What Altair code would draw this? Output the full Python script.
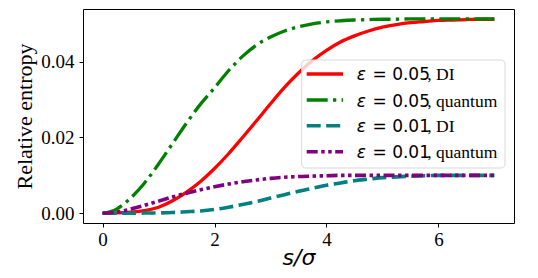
import altair as alt
import pandas as pd

# ---- data ----
s = [0, 0.25, 0.5, 0.75, 1.0, 1.25, 1.5, 1.75, 2.0, 2.25, 2.5, 2.75, 3.0, 3.25, 3.5,
     3.75, 4.0, 4.25, 4.5, 4.75, 5.0, 5.25, 5.5, 5.75, 6.0, 6.25, 6.5, 6.75, 7.0]

eps005_di = [0, 0.0001, 0.0003, 0.0007, 0.0016, 0.0033, 0.0056, 0.0084, 0.0118, 0.0157,
             0.0200, 0.0244, 0.0289, 0.0332, 0.0370, 0.0403, 0.0430, 0.0452, 0.0468,
             0.0481, 0.0491, 0.0498, 0.0503, 0.0506, 0.0509, 0.0510, 0.0511, 0.0512, 0.0512]

eps005_quantum = [0, 0.0011, 0.0040, 0.0080, 0.0130, 0.0184, 0.0238, 0.0288, 0.0331,
                  0.0376, 0.0414, 0.0444, 0.0465, 0.0481, 0.0492, 0.0500, 0.0505, 0.0508,
                  0.0510, 0.0511, 0.0512, 0.0512, 0.0513, 0.0513, 0.0513, 0.0513, 0.0513,
                  0.0513, 0.0513]

eps001_di = [0, 0.0, 0.00002, 0.00005, 0.0001, 0.0002, 0.0004, 0.0006, 0.0010, 0.0016,
             0.0023, 0.0031, 0.0040, 0.0049, 0.0058, 0.0066, 0.0074, 0.0080, 0.0086,
             0.0090, 0.0094, 0.0096, 0.0098, 0.0099, 0.0100, 0.0100, 0.0100, 0.0100, 0.0100]

eps001_quantum = [0, 0.0003, 0.0011, 0.0021, 0.0032, 0.0043, 0.0053, 0.0062, 0.0070,
                  0.0077, 0.0083, 0.0088, 0.0092, 0.0095, 0.0097, 0.0098, 0.0099, 0.0100,
                  0.0100, 0.0100, 0.0100, 0.0100, 0.0100, 0.0100, 0.0100, 0.0100, 0.0100,
                  0.0100, 0.0100]

legend_eps = ["ε", "ε", "ε", "ε"]
legend_math = ["= 0.05", "= 0.05", "= 0.01", "= 0.01"]
legend_suffix = [", DI", ", quantum", ", DI", ", quantum"]

x_ticks = [0, 2, 4, 6]
y_ticks = [0.0, 0.02, 0.04]

# ---- styles ----
series = [eps005_di, eps005_quantum, eps001_di, eps001_quantum]
colors = ["#ff0000", "#008000", "#008080", "#800080"]
dashes = [None, [21, 5.3, 3.3, 5.3], [14, 5.5], [11, 3.5, 3.5, 3.5, 3.5, 3.5]]
widths = [3.3, 3.3, 3.6, 3.6]

W, H = 431, 214
x_scale = alt.Scale(domain=[-0.35, 7.35], nice=False, zero=False)
y_scale = alt.Scale(domain=[-0.00257, 0.0539], nice=False, zero=False)

x_axis = alt.Axis(values=x_ticks, format="d", grid=False, domain=False,
                  labelFont="Liberation Serif", labelFontSize=19, labelColor="black",
                  tickColor="black", tickSize=4, tickWidth=1, labelPadding=3,
                  title="s/σ", titleFont="DejaVu Sans", titleFontStyle="italic",
                  titleFontWeight="normal", titleFontSize=22, titleColor="black",
                  titlePadding=-2)
y_axis = alt.Axis(values=y_ticks, format=".2f", grid=False, domain=False,
                  labelFont="Liberation Serif", labelFontSize=19, labelColor="black",
                  tickColor="black", tickSize=4, tickWidth=1, labelPadding=5,
                  title="Relative entropy", titleFont="Liberation Serif",
                  titleFontWeight="normal", titleFontSize=22, titleColor="black",
                  titlePadding=4)

layers = []
for i, vals in enumerate(series):
    df = pd.DataFrame({"s": s, "v": vals})
    mk = dict(color=colors[i], strokeWidth=widths[i], interpolate="monotone",
              strokeCap="butt")
    if dashes[i] is not None:
        mk["strokeDash"] = dashes[i]
    enc = dict(
        x=alt.X("s:Q", scale=x_scale, axis=x_axis),
        y=alt.Y("v:Q", scale=y_scale, axis=y_axis),
    )
    layers.append(alt.Chart(df).mark_line(**mk).encode(**enc))

# ---- manual legend (mixed fonts like the reference) ----
one = pd.DataFrame({"a": [0]})
layers.append(
    alt.Chart(one).mark_rect(fill="white", fillOpacity=0.8, stroke="#d8d8d8",
                             strokeWidth=1, cornerRadius=4)
    .encode(x=alt.value(218.7), x2=alt.value(422), y=alt.value(51), y2=alt.value(159))
)
row_line_y = [65, 91, 116.7, 142.7]
row_base_y = [71, 97.7, 123.3, 149.3]
for i in range(4):
    mk = dict(color=colors[i], strokeWidth=widths[i], strokeCap="butt")
    if dashes[i] is not None:
        mk["strokeDash"] = dashes[i]
    layers.append(alt.Chart(one).mark_rule(**mk).encode(
        x=alt.value(223.7), x2=alt.value(260), y=alt.value(row_line_y[i])))
    layers.append(alt.Chart(one).mark_text(
        align="left", baseline="alphabetic", font="DejaVu Sans", fontStyle="italic",
        fontSize=17, color="black").encode(
        x=alt.value(273.7), y=alt.value(row_base_y[i]), text=alt.value(legend_eps[i])))
    layers.append(alt.Chart(one).mark_text(
        align="left", baseline="alphabetic", font="DejaVu Sans",
        fontSize=17, color="black").encode(
        x=alt.value(289.5), y=alt.value(row_base_y[i]), text=alt.value(legend_math[i])))
    layers.append(alt.Chart(one).mark_text(
        align="left", baseline="alphabetic", font="Liberation Serif",
        fontSize=17.5, color="black").encode(
        x=alt.value(344.3), y=alt.value(row_base_y[i]), text=alt.value(legend_suffix[i])))

chart = alt.layer(*layers).properties(
    width=W, height=H,
    autosize=alt.AutoSizeParams(type="none"),
    padding={"left": 75, "top": 1, "right": 10, "bottom": 47},
    background="white",
).configure_view(stroke="black", strokeWidth=1)

chart.save("out.html", embed_options={"renderer": "svg", "actions": False})
